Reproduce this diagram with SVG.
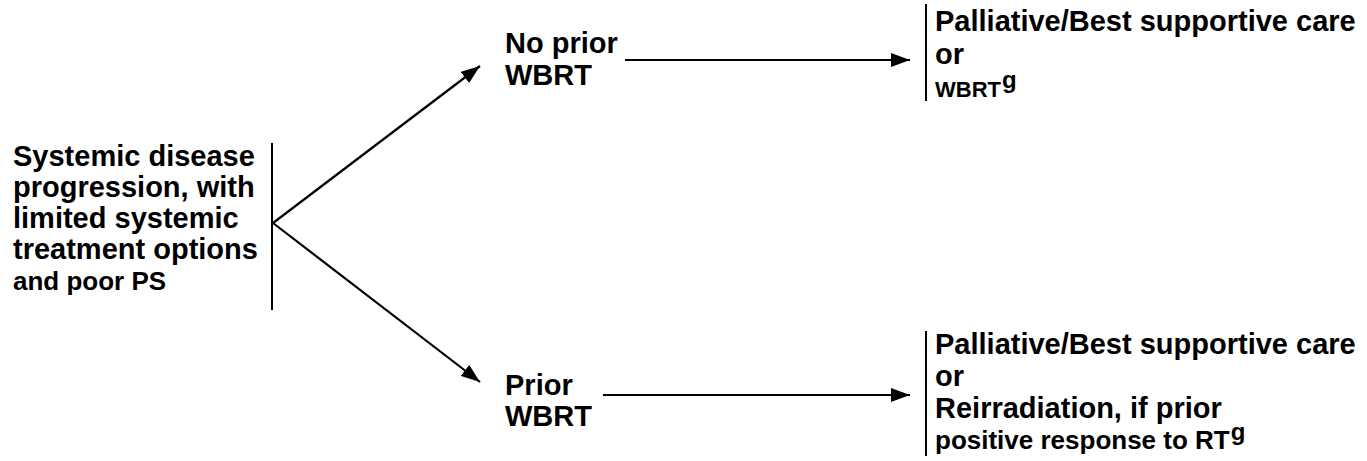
<svg xmlns="http://www.w3.org/2000/svg" width="1367" height="461" viewBox="0 0 1367 461">
<style>
text{font-family:"Liberation Sans",Arial,sans-serif;font-weight:bold;fill:#000}
.f29{font-size:29px}
.f26{font-size:26px}
.f22{font-size:22px}
.sup{font-size:24px}
.bar{stroke:#000;stroke-width:2;fill:none}
.con{stroke:#000;stroke-width:2.2;fill:none;marker-end:url(#ah)}
</style>
<defs>
<marker id="ah" markerUnits="userSpaceOnUse" markerWidth="20" markerHeight="14" refX="19" refY="7" orient="auto">
<path d="M0,0 L19,7 L0,14 Z" fill="#000"/>
</marker>
</defs>
<g id="start">
<text class="f29" x="13" y="166">Systemic disease</text>
<text class="f29" x="13" y="197">progression, with</text>
<text class="f29" x="13" y="228">limited systemic</text>
<text class="f29" x="13" y="259">treatment options</text>
<text class="f26" x="13" y="290">and poor PS</text>
<line class="bar" x1="272" y1="143" x2="272" y2="310"/>
</g>
<g id="noprior">
<text class="f29" x="505" y="53">No prior</text>
<text class="f29" x="505" y="85">WBRT</text>
</g>
<g id="prior">
<text class="f29" x="505" y="395">Prior</text>
<text class="f29" x="505" y="426">WBRT</text>
</g>
<g id="outcome-top">
<line class="bar" x1="926" y1="4" x2="926" y2="101"/>
<text class="f29" x="935" y="31">Palliative/Best supportive care</text>
<text class="f29" x="935" y="64">or</text>
<text class="f22" x="935" y="97">WBRT<tspan class="sup" dx="1" dy="-9">g</tspan></text>
</g>
<g id="outcome-bottom">
<line class="bar" x1="926" y1="331" x2="926" y2="456"/>
<text class="f29" x="935" y="354">Palliative/Best supportive care</text>
<text class="f29" x="935" y="386">or</text>
<text class="f29" x="935" y="418">Reirradiation, if prior</text>
<text class="f26" x="935" y="449">positive response to RT<tspan class="sup" dx="1" dy="-9">g</tspan></text>
</g>
<g id="connectors">
<line class="con" x1="273" y1="223" x2="480" y2="66"/>
<line class="con" x1="273" y1="223" x2="480" y2="382"/>
<line class="con" x1="625" y1="60" x2="910" y2="60"/>
<line class="con" x1="603" y1="395" x2="910" y2="395"/>
</g>
</svg>
